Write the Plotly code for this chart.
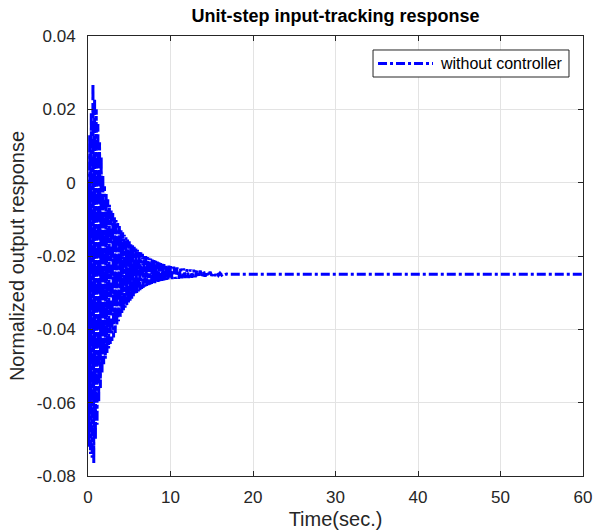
import plotly.graph_objects as go

# Alternating peaks of the oscillating response
t_sec = [0.00, 0.10, 0.20, 0.30, 0.40, 0.50, 0.60, 0.70, 0.80, 0.90,
         1.00, 1.10, 1.20, 1.30, 1.40, 1.50, 1.60, 1.70, 1.80, 1.90,
         2.00, 2.10, 2.20, 2.30, 2.40, 2.50, 2.60, 2.70, 2.80, 2.90,
         3.00, 3.10, 3.20, 3.30, 3.40, 3.50, 3.60, 3.70, 3.80, 3.90,
         4.00, 4.10, 4.20, 4.30, 4.40, 4.50, 4.60, 4.70, 4.80, 4.90,
         5.00, 5.10, 5.20, 5.30, 5.40, 5.50, 5.60, 5.70, 5.80, 5.90,
         6.00, 6.10, 6.20, 6.30, 6.40, 6.50, 6.60, 6.70, 6.80, 6.90,
         7.00, 7.10, 7.20, 7.30, 7.40, 7.50, 7.60, 7.70, 7.80, 7.90,
         8.00, 8.10, 8.20, 8.30, 8.40, 8.50, 8.60, 8.70, 8.80, 8.90,
         9.00, 9.10, 9.20, 9.30, 9.40, 9.50, 9.60, 9.70, 9.80, 9.90,
         10.0, 10.2, 10.4, 10.6, 10.8, 11.0, 11.2, 11.4, 11.6, 11.8,
         12.0, 12.2, 12.4, 12.6, 12.8, 13.0, 13.2, 13.4, 13.6, 13.8,
         14.0, 14.2, 14.4, 14.6, 14.8, 15.0, 15.2, 15.4, 15.6, 15.8,
         16.0, 16.2, 16.4, 16.6, 16.8, 17.0, 60.0]
response = [0.000, -0.072, 0.013, -0.074, 0.019, -0.075, 0.027, -0.0765, 0.023, -0.070,
            0.020, -0.066, 0.016, -0.060, 0.011, -0.056, 0.007, -0.052, 0.002, -0.0495,
            -0.001, -0.048, -0.003, -0.0465, -0.0045, -0.0452, -0.006, -0.044, -0.0072, -0.0432,
            -0.0083, -0.0422, -0.0093, -0.041, -0.0102, -0.039, -0.011, -0.0378, -0.0118, -0.0366,
            -0.0127, -0.0357, -0.0135, -0.0349, -0.0142, -0.0341, -0.0149, -0.0334, -0.0155, -0.0328,
            -0.016, -0.0322, -0.0165, -0.0317, -0.017, -0.0311, -0.0175, -0.0305, -0.0179, -0.0301,
            -0.0183, -0.0297, -0.0187, -0.0293, -0.019, -0.029, -0.0194, -0.0287, -0.0197, -0.0284,
            -0.020, -0.0282, -0.0203, -0.028, -0.0205, -0.0278, -0.0207, -0.0276, -0.0209, -0.0275,
            -0.0211, -0.0274, -0.0213, -0.0272, -0.0215, -0.0271, -0.0217, -0.0269, -0.0219, -0.0268,
            -0.0221, -0.0267, -0.0222, -0.0266, -0.0224, -0.0265, -0.0225, -0.0264, -0.0226, -0.0263,
            -0.0227, -0.0263, -0.0229, -0.0262, -0.0231, -0.0262, -0.0233, -0.0261, -0.0234, -0.026,
            -0.0236, -0.026, -0.0237, -0.0259, -0.0238, -0.0258, -0.0239, -0.0258, -0.024, -0.0257,
            -0.0241, -0.0256, -0.0242, -0.0255, -0.0243, -0.0254, -0.0245, -0.0254, -0.0246, -0.0253,
            -0.0247, -0.0252, -0.0248, -0.0251, -0.0249, -0.025, -0.025]

series_name = "without controller"
x_ticks = [0, 10, 20, 30, 40, 50, 60]
y_ticks = [0.04, 0.02, 0, -0.02, -0.04, -0.06, -0.08]
y_tick_labels = ["0.04", "0.02", "0", "-0.02", "-0.04", "-0.06", "-0.08"]

FONT = "Liberation Sans, Arial, sans-serif"
INK = "#262626"
BLUE = "#0000ff"

fig = go.Figure()
fig.add_trace(go.Scatter(
    x=t_sec, y=response, mode="lines", name=series_name, showlegend=False,
    line=dict(color=BLUE, width=3, dash="dashdot"),
))

axis_common = dict(
    showline=True, linecolor=INK, linewidth=1, mirror="ticks",
    ticks="inside", ticklen=5, tickcolor=INK, automargin=False,
    showgrid=True, gridcolor="#e3e3e3", gridwidth=1, zeroline=False,
    tickfont=dict(family=FONT, size=17, color=INK),
)

# Legend box drawn in plot-area (paper) coordinates, MATLAB style
fig.add_shape(type="rect", xref="paper", yref="paper", x0=0.5758, x1=0.9717, y0=0.9068, y1=0.9682,
              line=dict(color=INK, width=1), fillcolor="white", layer="above")
fig.add_shape(type="line", xref="paper", yref="paper", x0=0.5859, x1=0.6970, y0=0.9375, y1=0.9375,
              line=dict(color=BLUE, width=3, dash="dashdot"), layer="above")
fig.add_annotation(text=series_name, xref="paper", yref="paper", x=0.7071, y=0.9375,
                   xanchor="left", yanchor="middle", showarrow=False,
                   font=dict(family=FONT, size=16, color="black"))

fig.update_layout(
    width=595, height=530,
    margin=dict(l=88, r=12, t=36, b=54),
    paper_bgcolor="white", plot_bgcolor="white",
    title=dict(text="<b>Unit-step input-tracking response</b>", x=(88 + 583) / 2 / 595, xanchor="center",
               y=1 - 16 / 530, yanchor="middle", font=dict(family=FONT, size=18, color="black")),
    xaxis=dict(range=[0, 60], tickvals=x_ticks, ticklabelstandoff=6, **axis_common,
               title=dict(text="Time(sec.)", font=dict(family=FONT, size=20, color=INK), standoff=6)),
    yaxis=dict(range=[-0.08, 0.04], tickvals=y_ticks, ticktext=y_tick_labels, ticklabelstandoff=8,
               **axis_common,
               title=dict(text="Normalized output response", font=dict(family=FONT, size=20, color=INK),
                          standoff=6)),
    showlegend=False,
)

fig.write_html("out.html")
